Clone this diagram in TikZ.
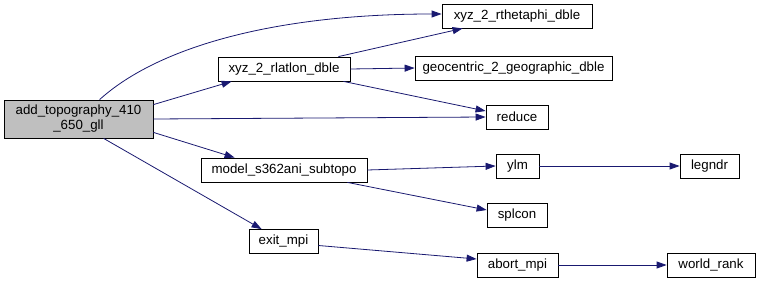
\documentclass[tikz,border=0pt]{standalone}
\usepackage{fontspec}
\setmainfont{Liberation Sans}
\usetikzlibrary{arrows.meta,calc}
\definecolor{edgeblue}{HTML}{191970}
\definecolor{rootfill}{HTML}{BFBFBF}
\begin{document}
\begin{tikzpicture}[x=1pt,y=-1pt,
  fn/.style={draw=black, line width=0.8pt, rectangle, inner sep=0pt,
             minimum height=24pt, font=\fontsize{13.3}{15}\selectfont},
  call/.style={draw=edgeblue, line width=0.8pt,
               -{Triangle[length=10pt,width=7pt,fill=edgeblue]}}]
\useasboundingbox (0,0) rectangle (759,283);

% functions
\node[fn, fill=rootfill, minimum width=149pt, minimum height=38pt, align=center]
  (main) at (78.5,119) {add\_topography\_410\\\_650\_gll};
\node[fn, minimum width=150pt] (rtp)   at (517,16)    {xyz\_2\_rthetaphi\_dble};
\node[fn, minimum width=132pt] (rll)   at (284,69)    {xyz\_2\_rlatlon\_dble};
\node[fn, minimum width=197pt] (geo)   at (513.5,68)  {geocentric\_2\_geographic\_dble};
\node[fn, minimum width=62pt]  (red)   at (517,117)   {reduce};
\node[fn, minimum width=166pt] (model) at (284,170)   {model\_s362ani\_subtopo};
\node[fn, minimum width=43pt]  (ylm)   at (517.5,166) {ylm};
\node[fn, minimum width=59pt]  (leg)   at (709.5,166) {legndr};
\node[fn, minimum width=60pt]  (spl)   at (517,215)   {splcon};
\node[fn, minimum width=69pt]  (exit)  at (283.5,241.5) {exit\_mpi};
\node[fn, minimum width=81pt]  (abt)   at (517.5,265) {abort\_mpi};
\node[fn, minimum width=88pt]  (wr)    at (711,265)   {world\_rank};

% calls
\draw[call] ($(main.north west)+(96,0)$) .. controls (160,45) and (280,14) .. ($(rtp.west)+(0,-2)$);
\draw[call] ($(main.north east)+(0,5)$) -- ($(rll.south west)+(14,0)$);
\draw[call] ($(rll.north east)+(-12,0)$) -- ($(rtp.south west)+(21,0)$);
\draw[call] (rll.east) -- (geo.west);
\draw[call] ($(rll.south east)+(-7,0)$) -- ($(red.west)+(0,-6)$);
\draw[call] (main.east) -- (red.west);
\draw[call] ($(main.south east)+(0,-6)$) -- ($(model.north west)+(34,0)$);
\draw[call] ($(main.south west)+(100,0)$) -- ($(exit.north west)+(13,0)$);
\draw[call] (model.east) -- (ylm.west);
\draw[call] ($(model.south east)+(-20,0)$) -- ($(spl.west)+(0,-5)$);
\draw[call] (ylm.east) -- (leg.west);
\draw[call] ($(exit.east)+(0,4)$) -- ($(abt.west)+(0,-6)$);
\draw[call] (abt.east) -- (wr.west);
\end{tikzpicture}
\end{document}
